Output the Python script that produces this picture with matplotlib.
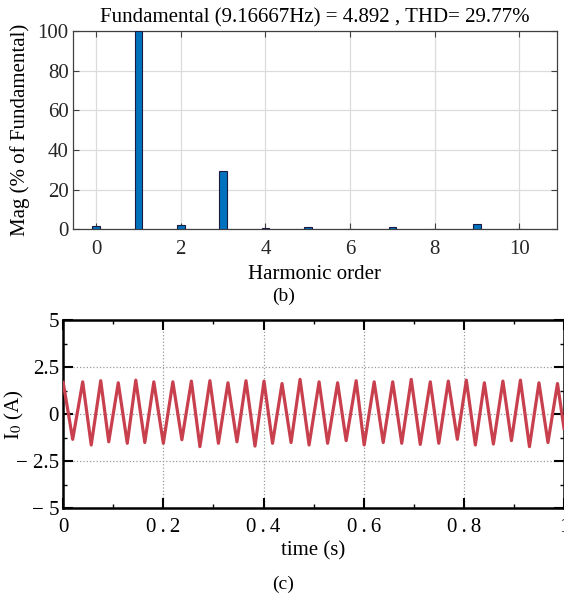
import numpy as np
import matplotlib
matplotlib.use("Agg")
import matplotlib.pyplot as plt
from matplotlib.ticker import MultipleLocator

plt.rcParams['font.family'] = ['Liberation Serif', 'DejaVu Serif']
plt.rcParams['mathtext.fontset'] = 'stix'

# harmonic spectrum (b)
orders = [0, 1, 2, 3, 4, 5, 6, 7, 8, 9, 10]
mags = [1.7, 100, 2.3, 29.4, 0.7, 1.2, 0.3, 1.2, 0.1, 2.8, 0.3]
title_b = "Fundamental (9.16667Hz) = 4.892 , THD= 29.77%"

# current waveform (c): extremes
peak_t = [0.0, 0.039, 0.075, 0.110, 0.145, 0.181, 0.219, 0.256, 0.293, 0.329,
          0.365, 0.401, 0.437, 0.473, 0.511, 0.548, 0.585, 0.621, 0.658, 0.695,
          0.733, 0.769, 0.805, 0.841, 0.878, 0.913, 0.950, 0.987]
peak_v = [1.70, 1.73, 1.79, 1.68, 1.82, 1.73, 1.73, 1.77, 1.79, 1.68,
          1.79, 1.77, 1.64, 1.86, 1.73, 1.68, 1.79, 1.73, 1.73, 1.86,
          1.73, 1.77, 1.82, 1.68, 1.77, 1.82, 1.68, 1.64]
trough_t = [0.019, 0.056, 0.091, 0.128, 0.163, 0.200, 0.237, 0.273, 0.310, 0.347,
            0.383, 0.418, 0.455, 0.491, 0.528, 0.565, 0.601, 0.639, 0.676, 0.713,
            0.750, 0.787, 0.823, 0.859, 0.895, 0.931, 0.968]
trough_v = [-1.33, -1.63, -1.46, -1.54, -1.50, -1.54, -1.35, -1.72, -1.54, -1.46,
            -1.69, -1.54, -1.50, -1.63, -1.54, -1.40, -1.63, -1.50, -1.54, -1.60,
            -1.54, -1.33, -1.63, -1.58, -1.40, -1.72, -1.50]
end_t = [1.0]
end_v = [-0.75]

xtick_c = [0, 0.2, 0.4, 0.6, 0.8, 1]
xlab_c = ["0", "0\u2009.\u20092", "0\u2009.\u20094", "0\u2009.\u20096", "0\u2009.\u20098", "1"]
ytick_c = [-5, -2.5, 0, 2.5, 5]
ylab_c = ["\u2212 5", "\u2212 2.5", "0", "2.5", "5"]

t = np.array(peak_t + trough_t + end_t)
v = np.array(peak_v + trough_v + end_v)
order = np.argsort(t)
t, v = t[order], v[order]

fig = plt.figure(figsize=(5.64, 5.97), dpi=100)

# ---- (b) spectrum
ax1 = fig.add_axes([0.129, 0.616, 0.858, 0.332])
ax1.bar(orders, mags, width=0.18, color='#0072BD', edgecolor='#1a1a40', linewidth=0.8, zorder=3)
ax1.set_xlim(-0.55, 10.88)
ax1.set_ylim(0, 100)
ax1.set_xticks([0, 2, 4, 6, 8, 10])
ax1.set_yticks([0, 20, 40, 60, 80, 100])
ax1.grid(True, color='#dcdcdc', linewidth=0.9, zorder=0)
ax1.tick_params(direction='in', top=True, right=True, length=4, width=0.8,
                colors='#404040', labelcolor='#262626', labelsize=15)
ax1.tick_params(axis='y', pad=3)
ax1.tick_params(axis='x', pad=8)
for s in ax1.spines.values():
    s.set_color('#404040')
    s.set_linewidth(0.9)
ax1.set_title(title_b, fontsize=15, pad=6)
ax1.set_ylabel("Mag (% of Fundamental)", fontsize=15)
ax1.yaxis.set_label_coords(-0.088, 0.5)
ax1.set_xlabel("Harmonic order", fontsize=15, labelpad=4)
fig.text(0.502, 0.504, "(b)", ha='center', va='center', fontsize=14)

# ---- (c) current
ax2 = fig.add_axes([0.112, 0.1486, 0.888, 0.3147])
ax2.plot(t, v, color='#c8404e', linewidth=2.3, solid_joinstyle='round', zorder=3)
ax2.set_xlim(0, 1)
ax2.set_ylim(-5, 5)
ax2.set_xticks(xtick_c)
ax2.set_xticklabels(xlab_c)
ax2.set_yticks(ytick_c)
ax2.set_yticklabels(ylab_c)
ax2.xaxis.set_minor_locator(MultipleLocator(0.1))
ax2.yaxis.set_minor_locator(MultipleLocator(1.25))
ax2.grid(True, which='major', color='#9a9a9a', linestyle=':', linewidth=0.9, zorder=0)
ax2.tick_params(which='major', direction='in', top=True, right=True, length=7, width=1.5,
                labelsize=15)
ax2.tick_params(axis='y', which='major', pad=3)
ax2.tick_params(axis='x', which='major', pad=7)
ax2.tick_params(which='minor', direction='in', top=True, right=True, length=3, width=1.0)
for s in ax2.spines.values():
    s.set_linewidth(1.8)
ax2.set_ylabel("I$_0$ (A)", fontsize=15)
ax2.yaxis.set_label_coords(-0.074, 0.5)
ax2.set_xlabel("time (s)", fontsize=15, labelpad=3)
fig.text(0.502, 0.022, "(c)", ha='center', va='center', fontsize=14)

fig.savefig("out.png", dpi=100)
